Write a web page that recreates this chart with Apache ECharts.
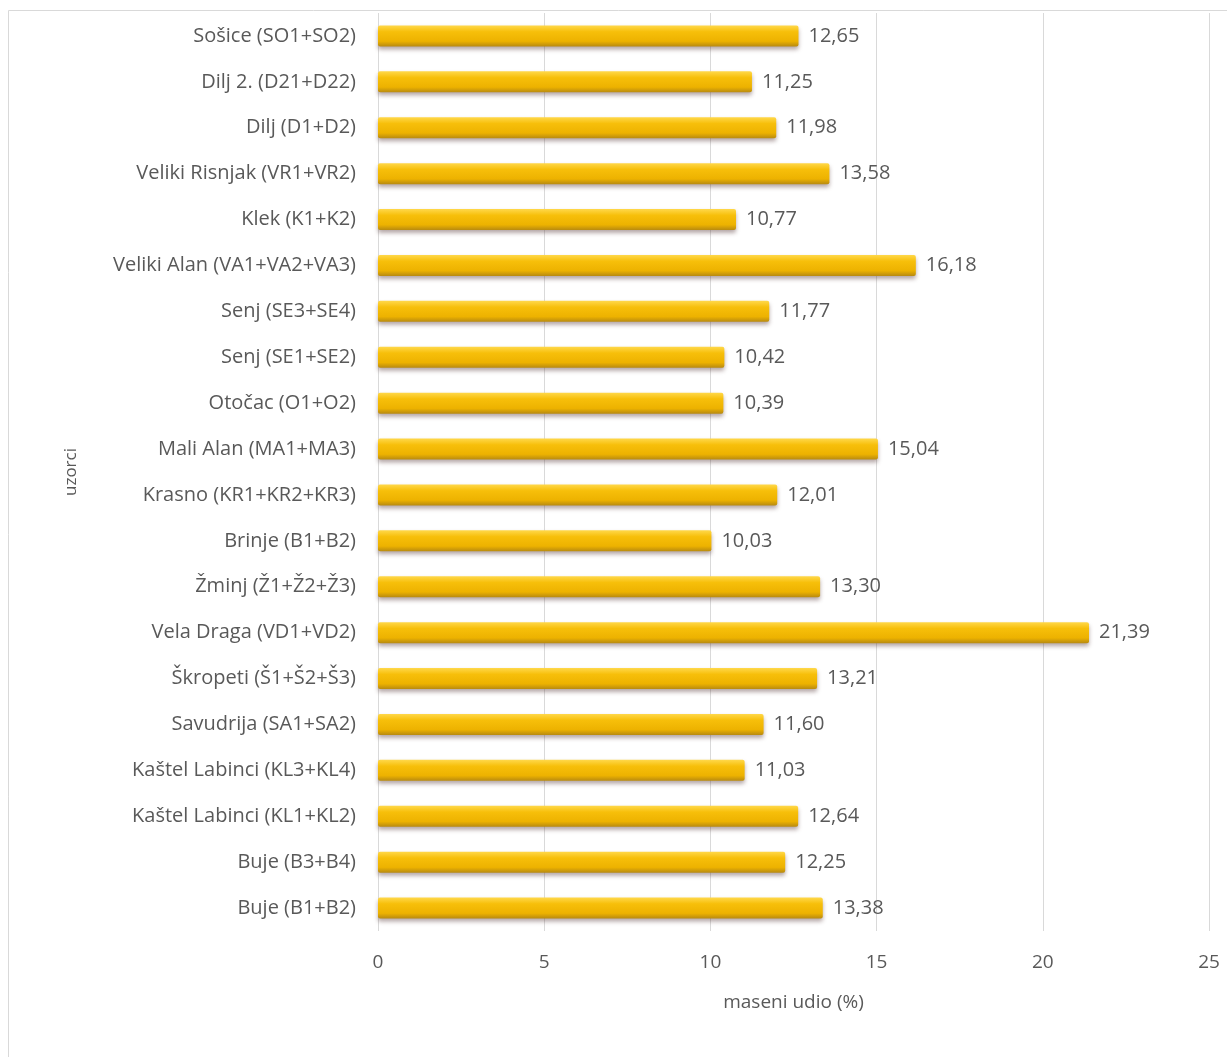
<!DOCTYPE html>
<html>
<head>
<meta charset="utf-8">
<title>maseni udio</title>
<script src="https://cdn.jsdelivr.net/npm/echarts@6/dist/echarts.min.js"></script>
<style>
  html, body { margin: 0; padding: 0; background: #fff; }
  #chart { width: 1227px; height: 1057px; }
</style>
</head>
<body>
<div id="chart"></div>
<script>
// samples, top to bottom as in the figure
const samples = [
  'Sošice (SO1+SO2)',
  'Dilj 2. (D21+D22)',
  'Dilj (D1+D2)',
  'Veliki Risnjak (VR1+VR2)',
  'Klek (K1+K2)',
  'Veliki Alan (VA1+VA2+VA3)',
  'Senj (SE3+SE4)',
  'Senj (SE1+SE2)',
  'Otočac (O1+O2)',
  'Mali Alan (MA1+MA3)',
  'Krasno (KR1+KR2+KR3)',
  'Brinje (B1+B2)',
  'Žminj (Ž1+Ž2+Ž3)',
  'Vela Draga (VD1+VD2)',
  'Škropeti (Š1+Š2+Š3)',
  'Savudrija (SA1+SA2)',
  'Kaštel Labinci (KL3+KL4)',
  'Kaštel Labinci (KL1+KL2)',
  'Buje (B3+B4)',
  'Buje (B1+B2)'
]
const masses = [
  12.65, 11.25, 11.98, 13.58, 10.77, 16.18, 11.77, 10.42, 10.39, 15.04,
  12.01, 10.03, 13.30, 21.39, 13.21, 11.60, 11.03, 12.64, 12.25, 13.38
]
const xTicks = [0, 5, 10, 15, 20, 25]

const textColor = '#595959'
const fontFamily = '"Open Sans", "Liberation Sans", sans-serif'

const chart = echarts.init(document.getElementById('chart'))

chart.setOption({
  animation: false,
  textStyle: { fontFamily },
  graphic: [{
    type: 'rect',
    shape: { x: 8.5, y: 10.5, width: 1240, height: 1070 },
    style: { fill: 'none', stroke: '#d9d9d9', lineWidth: 1 },
    silent: true
  }],
  grid: {
    left: 378,
    right: 18,
    top: 13,
    bottom: 126
  },
  xAxis: {
    type: 'value',
    min: xTicks[0],
    max: xTicks[xTicks.length - 1],
    interval: 5,
    name: 'maseni udio (%)',
    nameLocation: 'middle',
    nameGap: 62,
    nameTextStyle: { color: textColor, fontSize: 19, fontFamily },
    axisLine: { show: false },
    axisTick: { show: false },
    axisLabel: { color: textColor, fontSize: 19, margin: 22, fontFamily },
    splitLine: { lineStyle: { color: '#d9d9d9', width: 1 } }
  },
  yAxis: {
    type: 'category',
    data: samples,
    inverse: true,
    name: 'uzorci',
    nameLocation: 'middle',
    nameGap: 298,
    nameRotate: 90,
    nameTextStyle: { color: textColor, fontSize: 17, fontFamily },
    axisLine: { show: false },
    axisTick: { show: false },
    axisLabel: { color: textColor, fontSize: 20, margin: 22, fontFamily }
  },
  series: [{
    type: 'bar',
    data: masses,
    barWidth: 21,
    itemStyle: {
      borderRadius: 2,
      color: new echarts.graphic.LinearGradient(0, 0, 0, 1, [
        { offset: 0, color: '#FFD84A' },
        { offset: 0.3, color: '#F7BF0A' },
        { offset: 0.75, color: '#EDB200' },
        { offset: 1, color: '#B88A10' }
      ]),
      shadowColor: 'rgba(90, 60, 60, 0.45)',
      shadowBlur: 4,
      shadowOffsetY: 3
    },
    label: {
      show: true,
      position: 'right',
      distance: 10,
      color: textColor,
      fontSize: 20,
      fontFamily,
      formatter: p => p.value.toFixed(2).replace('.', ',')
    }
  }]
})
</script>
</body>
</html>
